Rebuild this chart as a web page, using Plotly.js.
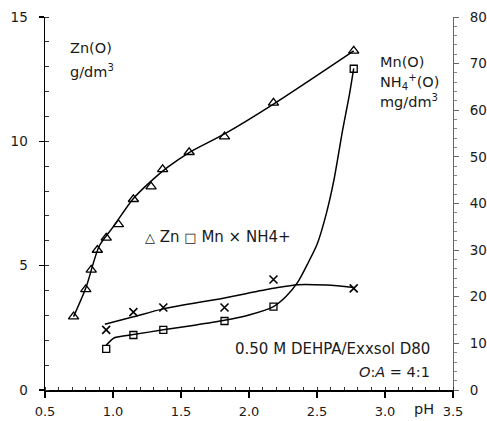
<!DOCTYPE html>
<html>
<head>
<meta charset="utf-8">
<script src="https://cdn.plot.ly/plotly-3.0.1.min.js"></script>
<style>html,body{margin:0;padding:0;background:#fff;}#chart{width:487px;height:421px;}</style>
</head>
<body>
<div id="chart"></div>
<script>
// Measured data (pH vs organic-phase concentration)
const znPH  = [0.71, 0.80, 0.84, 0.885, 0.95, 1.04, 1.15, 1.28, 1.365, 1.56, 1.82, 2.18, 2.77];
const znG   = [2.95, 4.05, 4.83, 5.63, 6.12, 6.66, 7.67, 8.18, 8.87, 9.56, 10.19, 11.55, 13.64];
const mnPH  = [0.95, 1.15, 1.37, 1.82, 2.18, 2.77];
const mnMg  = [8.8, 11.8, 12.9, 14.8, 17.9, 68.9];
const nhPH  = [0.95, 1.15, 1.37, 1.82, 2.18, 2.77];
const nhMg  = [12.9, 16.7, 17.7, 17.7, 23.7, 21.8];
// Fitted curves
const znFitPH = [0.71, 0.80, 0.90, 1.00, 1.15, 1.28, 1.40, 1.56, 1.82, 2.18, 2.77];
const znFitG  = [2.95, 4.10, 5.80, 6.55, 7.70, 8.40, 8.95, 9.55, 10.30, 11.50, 13.64];
const mnFitPH = [0.95, 1.01, 1.15, 1.37, 1.60, 1.81, 2.00, 2.18, 2.27, 2.36, 2.43, 2.50, 2.57, 2.625, 2.69, 2.735, 2.77];
const mnFitMg = [9.6, 11.2, 11.9, 12.9, 13.9, 14.9, 16.1, 17.9, 20.0, 23.2, 27.0, 31.2, 38.0, 45.1, 56.0, 62.8, 69.0];
const nhFitPH = [0.94, 1.15, 1.37, 1.81, 2.18, 2.36, 2.57, 2.77];
const nhFitMg = [14.1, 15.7, 17.4, 19.7, 21.8, 22.6, 22.5, 22.0];

const xTickVals = [0.5, 1.0, 1.5, 2.0, 2.5, 3.0, 3.5];
const xTickText = ['0.5', '1.0', '1.5', '2.0', '2.5', '3.0', '3.5'];
const yTickVals = [0, 5, 10, 15];
const y2TickVals = [0, 10, 20, 30, 40, 50, 60, 70, 80];

const FONT = 'DejaVu Sans, sans-serif';
const TXT = '#1a1a1a';

const fitLine = {color: '#000', width: 1.5, shape: 'spline', smoothing: 0.8};
const traces = [
  {x: znFitPH, y: znFitG, mode: 'lines', line: fitLine, yaxis: 'y', hoverinfo: 'skip'},
  {x: mnFitPH, y: mnFitMg, mode: 'lines', line: {color: '#000', width: 1.5, shape: 'spline', smoothing: 0.6}, yaxis: 'y2', hoverinfo: 'skip'},
  {x: nhFitPH, y: nhFitMg, mode: 'lines', line: fitLine, yaxis: 'y2', hoverinfo: 'skip'},
  {x: znPH, y: znG, mode: 'markers', name: 'Zn', yaxis: 'y',
   marker: {symbol: 'triangle-up-open', size: 9, color: '#000', line: {width: 1.3, color: '#000'}}},
  {x: mnPH, y: mnMg, mode: 'markers', name: 'Mn', yaxis: 'y2',
   marker: {symbol: 'square-open', size: 7, color: '#000', line: {width: 1.3, color: '#000'}}},
  {x: nhPH, y: nhMg, mode: 'markers', name: 'NH4+', yaxis: 'y2',
   marker: {symbol: 'x-thin-open', size: 8, color: '#000', line: {width: 1.6, color: '#000'}}}
];

function ann(px, py, text, anchor, size) {
  return {xref: 'paper', yref: 'paper', x: (px - 45) / 408, y: (390 - py) / 373,
          xanchor: anchor, yanchor: 'middle', showarrow: false, text: text,
          font: {family: FONT, size: size, color: TXT}};
}

const layout = {
  width: 487, height: 421,
  margin: {l: 45, r: 34, t: 17, b: 31, pad: 0},
  paper_bgcolor: '#fff', plot_bgcolor: '#fff',
  showlegend: false,
  font: {family: FONT, size: 13, color: TXT},
  xaxis: {
    range: [0.5, 3.5], tickvals: xTickVals, ticktext: xTickText,
    showgrid: false, zeroline: false, showline: true, linecolor: '#000', linewidth: 1.5,
    ticks: 'outside', ticklen: 6, tickwidth: 1.5, tickcolor: '#000',
    minor: {dtick: 0.1, ticks: 'inside', ticklen: 3, tickwidth: 1, tickcolor: '#333', showgrid: false},
    ticklabelstandoff: 3, tickfont: {family: FONT, size: 13, color: TXT}
  },
  yaxis: {
    range: [0, 15], tickvals: yTickVals,
    showgrid: false, zeroline: false, showline: true, linecolor: '#000', linewidth: 1.5,
    ticks: 'outside', ticklen: 5, tickwidth: 1.5, tickcolor: '#000',
    minor: {dtick: 1, ticks: 'inside', ticklen: 4, tickwidth: 1, tickcolor: '#333', showgrid: false},
    ticklabelstandoff: 8, tickfont: {family: FONT, size: 13.5, color: TXT}
  },
  yaxis2: {
    range: [0, 80], tickvals: y2TickVals, overlaying: 'y', side: 'right',
    showgrid: false, zeroline: false, showline: true, linecolor: '#666', linewidth: 1,
    ticks: 'outside', ticklen: 5, tickwidth: 1, tickcolor: '#666',
    minor: {dtick: 2, ticks: 'outside', ticklen: 3, tickwidth: 1, tickcolor: '#888', showgrid: false},
    ticklabelstandoff: 8, tickfont: {family: FONT, size: 13.5, color: TXT}
  },
  annotations: [
    ann(68, 48, 'Zn(O)', 'left', 14.5),
    ann(68, 71, 'g/dm<sup>3</sup>', 'left', 14.5),
    ann(378, 62, 'Mn(O)', 'left', 14.5),
    ann(378, 82, 'NH<sub>4</sub><sup>+</sup>(O)', 'left', 14.5),
    ann(378, 101, 'mg/dm<sup>3</sup>', 'left', 14.5),
    ann(143, 237, '<span style="font-size:13px">\u25B3</span> Zn <span style="font-size:13px">\u25A1</span> Mn \u00D7 NH4+', 'left', 15),
    ann(432, 349, '0.50 M DEHPA/Exxsol D80', 'right', 15),
    ann(432, 372, '<i>O</i>:<i>A</i> = 4:1', 'right', 14.5),
    ann(424, 409, 'pH', 'center', 14.5)
  ]
};

Plotly.newPlot('chart', traces, layout, {displayModeBar: false, staticPlot: true});
</script>
</body>
</html>
